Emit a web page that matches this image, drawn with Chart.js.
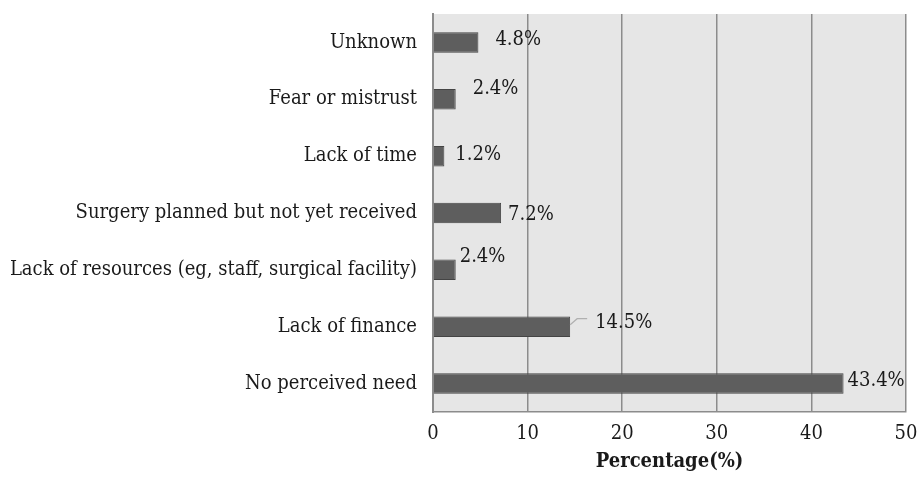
<!DOCTYPE html>
<html>
<head>
<meta charset="utf-8">
<script src="https://cdn.jsdelivr.net/npm/chart.js@4/dist/chart.umd.min.js"></script>
<style>
  html, body { margin: 0; padding: 0; background: #fff; }
  #wrap { width: 920px; height: 483px; }
</style>
</head>
<body>
<div id="wrap"><canvas id="chart"></canvas></div>
<script>
// Reasons for not receiving surgery (percent of respondents)
const categories = [
    'Unknown',
    'Fear or mistrust',
    'Lack of time',
    'Surgery planned but not yet received',
    'Lack of resources (eg, staff, surgical facility)',
    'Lack of finance',
    'No perceived need'
];
const percentages = [4.8, 2.4, 1.2, 7.2, 2.4, 14.5, 43.4];
const valueLabels = ['4.8%', '2.4%', '1.2%', '7.2%', '2.4%', '14.5%', '43.4%'];
const xTicks = [0, 10, 20, 30, 40, 50];

// label placement relative to the end of each bar (px)
const labelOffsets = [
    { dx: 17, dy: -3 },
    { dx: 17, dy: -10 },
    { dx: 11, dy: -1 },
    { dx: 7, dy: 2 },
    { dx: 4, dy: -13 },
    { dx: 25, dy: -4, leader: true },
    { dx: 4, dy: -3 }
];

const FONT = "'DejaVu Serif Condensed', 'DejaVu Serif', serif";

/**
 * Grey plot background
 */
const plotBackground = {
    id: 'plotBackground',
    beforeDraw(chart) {
        const { ctx, chartArea: a } = chart;
        ctx.save();
        ctx.fillStyle = '#e6e6e6';
        ctx.fillRect(a.left, a.top, a.right - a.left, a.bottom - a.top);
        ctx.restore();
    }
};

/**
 * Value labels next to the bars
 */
const valueLabelPlugin = {
    id: 'valueLabels',
    afterDatasetsDraw(chart) {
        const { ctx } = chart;
        const meta = chart.getDatasetMeta(0);
        ctx.save();
        ctx.font = '20px ' + FONT;
        ctx.fillStyle = '#1a1a1a';
        ctx.textBaseline = 'middle';
        ctx.textAlign = 'left';
        meta.data.forEach((bar, i) => {
            const off = labelOffsets[i];
            const x = bar.x + off.dx;
            const y = bar.y + off.dy;
            if (off.leader) {
                // small leader line from the bar end to its label
                ctx.strokeStyle = '#b0b0b0';
                ctx.lineWidth = 1.2;
                ctx.beginPath();
                ctx.moveTo(bar.x, bar.y - 2);
                ctx.lineTo(bar.x + 7, bar.y - 8);
                ctx.lineTo(bar.x + 17, bar.y - 8);
                ctx.stroke();
            }
            ctx.fillText(valueLabels[i], x, y);
        });
        ctx.restore();
    }
};

new Chart(document.getElementById('chart'), {
    type: 'bar',
    data: {
        labels: categories,
        datasets: [{
            data: percentages,
            backgroundColor: '#5e5e5e',
            borderColor: '#444444',
            borderWidth: 1,
            barPercentage: 0.36,
            categoryPercentage: 1
        }]
    },
    options: {
        indexAxis: 'y',
        responsive: true,
        maintainAspectRatio: false,
        animation: false,
        layout: { padding: { top: 14, right: 14, left: 8, bottom: 9 } },
        plugins: {
            legend: { display: false },
            tooltip: { enabled: false }
        },
        scales: {
            x: {
                min: 0,
                max: 50,
                afterBuildTicks: (axis) => {
                    axis.ticks = xTicks.map(v => ({ value: v }));
                },
                afterFit: (axis) => {
                    axis.height = 62;
                    axis.paddingRight = 0;
                    axis.paddingLeft = 0;
                },
                grid: {
                    color: '#8c8c8c',
                    lineWidth: 1.5,
                    drawTicks: false
                },
                border: { display: true, color: '#8c8c8c', width: 1.5 },
                ticks: {
                    color: '#1a1a1a',
                    padding: 10,
                    font: { family: FONT, size: 20 }
                },
                title: {
                    display: true,
                    text: 'Percentage(%)',
                    color: '#1a1a1a',
                    padding: { top: 0, bottom: 0 },
                    font: { family: FONT, size: 20, weight: 'bold' }
                }
            },
            y: {
                afterFit: (axis) => {
                    axis.width = 425;
                    axis.paddingTop = 0;
                    axis.paddingBottom = 0;
                },
                grid: { display: false, drawTicks: false },
                border: { display: true, color: '#8c8c8c', width: 2 },
                ticks: {
                    color: '#1a1a1a',
                    padding: 16,
                    font: { family: FONT, size: 20 }
                }
            }
        }
    },
    plugins: [plotBackground, valueLabelPlugin]
});
</script>
</body>
</html>
